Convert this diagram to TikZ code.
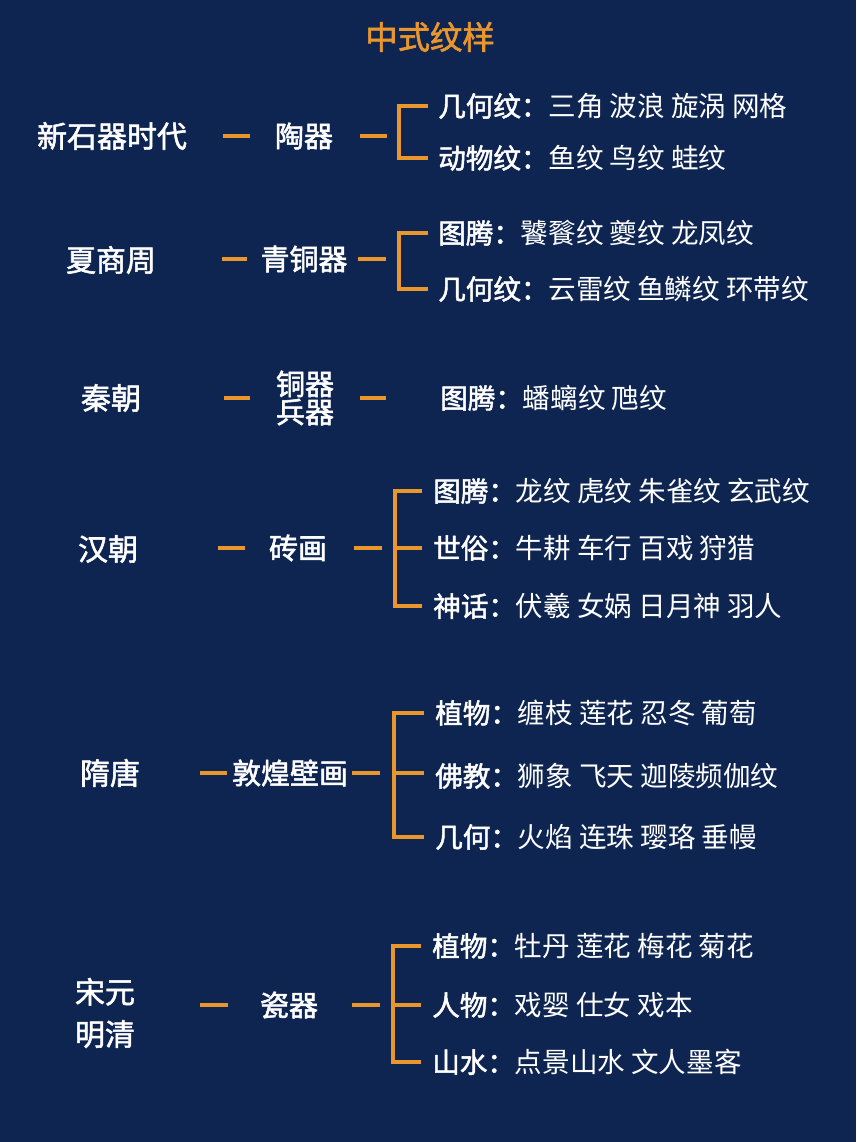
\documentclass[tikz,border=0pt]{standalone}
\usepackage{fontspec}
\setmainfont{Noto Sans CJK SC}
\newfontfamily\medfont[FakeBold=1.8]{Noto Sans CJK SC}
\usepackage{xcolor}
\definecolor{navybg}{RGB}{14,37,82}
\definecolor{motiforange}{RGB}{233,150,45}

\begin{document}
\begin{tikzpicture}[x=0.025cm, y=-0.025cm,
    era/.style={font=\fontsize{21.3}{30}\selectfont\medfont, white, inner sep=0pt, align=center},
    ware/.style={font=\fontsize{20.6}{20}\selectfont\medfont, white, inner sep=0pt, align=center},
    item/.style={font=\fontsize{19.6}{20}\selectfont, white, inner sep=0pt, anchor=west},
    link/.style={motiforange, line width=3.3pt},
    gap/.style 2 args={shorten <=#1*0.025cm, shorten >=#2*0.025cm}]
      \fill[navybg] (0,0) rectangle (856,1142);

      % Title
      \node[font=\fontsize{23}{24}\selectfont\medfont, motiforange] (title) at (430,37) {中式纹样};

      % Neolithic
      \node[era] (e1) at (112,136) {新石器时代};
      \node[ware] (w1) at (304,136) {陶器};
      \coordinate (j1) at (399,136);
      \node[item] (i11) at (438,106) {{\medfont 几何纹：}三角 波浪 旋涡 网格};
      \node[item] (i12) at (438,158) {{\medfont 动物纹：}鱼纹 鸟纹 蛙纹};
      \draw[link, gap={36}{25}] (e1.east |- w1.west) -- (w1.west);
      \draw[link, gap={27}{12}] (w1.east) -- (j1);
      \draw[link, gap={10}{10}] (i11.west) -| (j1) |- (i12.west);

      % Xia Shang Zhou
      \node[era] (e2) at (111,260) {夏商周};
      \node[ware] (w2) at (304,259) {青铜器};
      \coordinate (j2) at (399,259);
      \node[item] (i21) at (438,233) {{\medfont 图腾：}饕餮纹 夔纹 龙凤纹};
      \node[item] (i22) at (438,289) {{\medfont 几何纹：}云雷纹 鱼鳞纹 环带纹};
      \draw[link, gap={66}{13}] (e2.east |- w2.west) -- (w2.west);
      \draw[link, gap={10}{13}] (w2.east) -- (j2);
      \draw[link, gap={10}{10}] (i21.west) -| (j2) |- (i22.west);

      % Qin
      \node[era] (e3) at (111,398) {秦朝};
      \node[ware] (w3) at (305,398) {铜器\\兵器};
      \node[item] (i31) at (440,398) {{\medfont 图腾：}蟠螭纹 虺纹};
      \draw[link, gap={83}{26}] (e3.east |- w3.west) -- (w3.west);
      \draw[link, gap={26}{54}] (w3.east) -- (w3.east -| i31.west);

      % Han
      \node[era] (e4) at (108,549) {汉朝};
      \node[ware] (w4) at (298,548) {砖画};
      \coordinate (j4) at (395,548);
      \node[item] (i41) at (433,491) {{\medfont 图腾：}龙纹 虎纹 朱雀纹 玄武纹};
      \node[item] (i42) at (433,548) {{\medfont 世俗：}牛耕 车行 百戏 狩猎};
      \node[item] (i43) at (433,606) {{\medfont 神话：}伏羲 女娲 日月神 羽人};
      \draw[link, gap={80}{24}] (e4.east |- w4.west) -- (w4.west);
      \draw[link, gap={27}{13}] (w4.east) -- (j4);
      \draw[link, gap={11}{11}] (i41.west) -| (j4) |- (i43.west);
      \draw[link, gap={0}{11}] (j4) -- (j4 -| i42.west);

      % Sui Tang
      \node[era] (e5) at (110,773) {隋唐};
      \node[ware] (w5) at (290,773) {敦煌壁画};
      \coordinate (j5) at (394,773);
      \node[item] (i51) at (435,713) {{\medfont 植物：}缠枝 莲花 忍冬 葡萄};
      \node[item] (i52) at (435,776) {{\medfont 佛教：}狮象 飞天 迦陵频伽纹};
      \node[item] (i53) at (435,837) {{\medfont 几何：}火焰 连珠 璎珞 垂幔};
      \draw[link, gap={60}{5}] (e5.east |- w5.west) -- (w5.west);
      \draw[link, gap={4}{14}] (w5.east) -- (j5);
      \draw[link, gap={11}{11}] (i51.west) -| (j5) |- (i53.west);
      \draw[link, gap={0}{11}] (j5) -- (j5 -| i52.west);

      % Song Yuan Ming Qing
      \node[era] (e6) at (105,1013) {宋元\\明清};
      \node[ware] (w6) at (289,1005) {瓷器};
      \coordinate (j6) at (393,1005);
      \node[item] (i61) at (432,946) {{\medfont 植物：}牡丹 莲花 梅花 菊花};
      \node[item] (i62) at (432,1005) {{\medfont 人物：}戏婴 仕女 戏本};
      \node[item] (i63) at (432,1062) {{\medfont 山水：}点景山水 文人墨客};
      \draw[link, gap={65}{32}] (e6.east |- w6.west) -- (w6.west);
      \draw[link, gap={34}{13}] (w6.east) -- (j6);
      \draw[link, gap={11}{11}] (i61.west) -| (j6) |- (i63.west);
      \draw[link, gap={0}{11}] (j6) -- (j6 -| i62.west);
\end{tikzpicture}
\end{document}
